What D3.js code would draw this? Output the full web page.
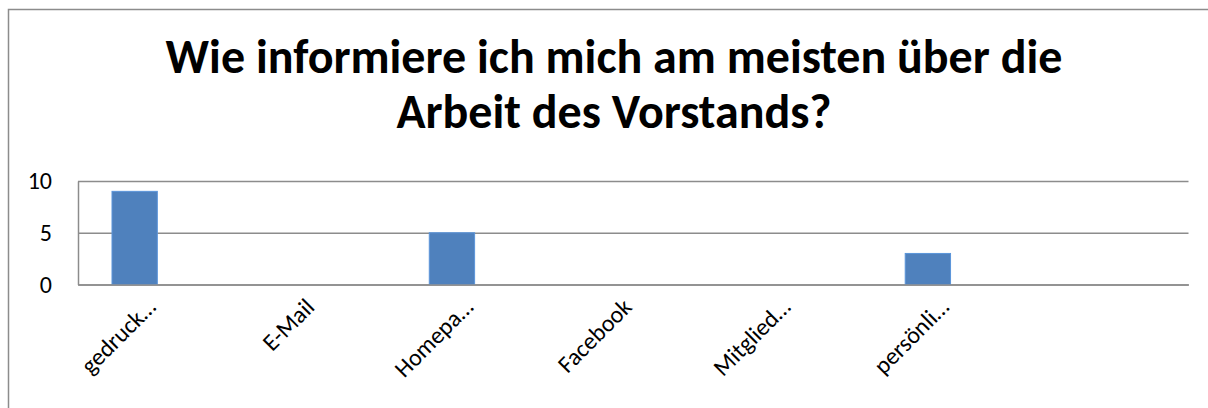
<!DOCTYPE html>
<html>
<head>
<meta charset="utf-8">
<script src="https://cdn.jsdelivr.net/npm/d3@7"></script>
<style>
  body { margin: 0; background: #fff; }
  svg { display: block; font-family: Carlito, Lato, "Open Sans", sans-serif; }
  .axis text { fill: #000; }
</style>
</head>
<body>
<div id="chart"></div>
<script>
var categories = ["gedruck\u2026", "E-Mail", "Homepa\u2026", "Facebook", "Mitglied\u2026", "pers\u00f6nli\u2026", ""];
var seriesNames = ["Reihe1", "Reihe2"];
var values1 = [9, 0, 5, 0, 0, 3, 0];
var values2 = [0, 0, 0, 0, 0, 0, 0];
var yTicks = [0, 5, 10];
var titleLines = ["Wie informiere ich mich am meisten \u00fcber die", "Arbeit des Vorstands?"];

var W = 1208, H = 408;
var fontFam = "Carlito, Lato, 'Open Sans', sans-serif";
var margin = { top: 181, right: 19.5, bottom: 123.5, left: 78 },
  width = W - margin.left - margin.right,
  height = H - margin.top - margin.bottom;

var svg = d3.select("#chart").append("svg")
  .attr("width", W)
  .attr("height", H);

// chart area border (runs off right/bottom)
svg.append("rect")
  .attr("x", 8.5).attr("y", 9.5)
  .attr("width", W + 20).attr("height", H + 20)
  .attr("fill", "#fff")
  .attr("stroke", "#8c8c8c")
  .attr("stroke-width", 1.5);

// title
svg.append("g").selectAll("text")
  .data(titleLines).enter()
  .append("text")
  .attr("x", 614)
  .attr("y", function(d, i) { return 73 + i * 55; })
  .attr("text-anchor", "middle")
  .style("font-size", "48px")
  .style("font-weight", "bold")
  .attr("fill", "#000")
  .text(function(d) { return d; });

var x = d3.scaleBand()
  .domain(categories.map(function(d, i) { return i; }))
  .range([0, width])
  .padding(0);

var xs = d3.scaleBand()
  .domain(seriesNames)
  .range([0, x.bandwidth()])
  .paddingInner(0)
  .paddingOuter(0.75);

var y = d3.scaleLinear()
  .domain([0, 10])
  .range([height, 0]);

var g = svg.append("g")
  .attr("transform", "translate(" + margin.left + "," + margin.top + ")");

// gridlines
g.append("g")
  .attr("class", "grid")
  .call(d3.axisLeft(y).tickValues(yTicks).tickSize(-width).tickFormat(""))
  .call(function(s) {
    s.select(".domain").remove();
    s.selectAll("line").attr("stroke", "#8c8c8c").attr("stroke-width", 1.5);
  });

// y axis
g.append("g")
  .attr("class", "axis")
  .call(d3.axisLeft(y).tickValues(yTicks).tickSize(0).tickPadding(26))
  .call(function(s) {
    s.select(".domain").attr("stroke", "#8c8c8c").attr("stroke-width", 1.5);
    s.selectAll("text")
      .style("font-family", fontFam)
      .style("font-size", "24px");
  });

// bars
var series = [values1, values2];
series.forEach(function(vals, si) {
  g.append("g").selectAll("rect")
    .data(vals).enter()
    .append("rect")
    .attr("x", function(d, i) { return x(i) + xs(seriesNames[si]); })
    .attr("width", xs.bandwidth())
    .attr("y", function(d) { return y(d); })
    .attr("height", function(d) { return height - y(d); })
    .attr("fill", "#4f81bd")
    .attr("stroke", d3.color("#4f81bd").brighter(0.4))
    .attr("stroke-width", function(d) { return d > 0 ? 1 : 0; });
});

// x axis
g.append("g")
  .attr("class", "axis")
  .attr("transform", "translate(0," + height + ")")
  .call(d3.axisBottom(x).tickSize(0).tickFormat(function(i) { return categories[i]; }))
  .call(function(s) {
    s.select(".domain").attr("stroke", "#8c8c8c").attr("stroke-width", 1.5);
    s.selectAll("text")
      .style("font-family", fontFam)
      .style("font-size", "24px")
      .attr("text-anchor", "end")
      .attr("dy", null)
      .attr("y", null)
      .attr("transform", "translate(0,24) rotate(-45)");
  });
</script>
</body>
</html>
